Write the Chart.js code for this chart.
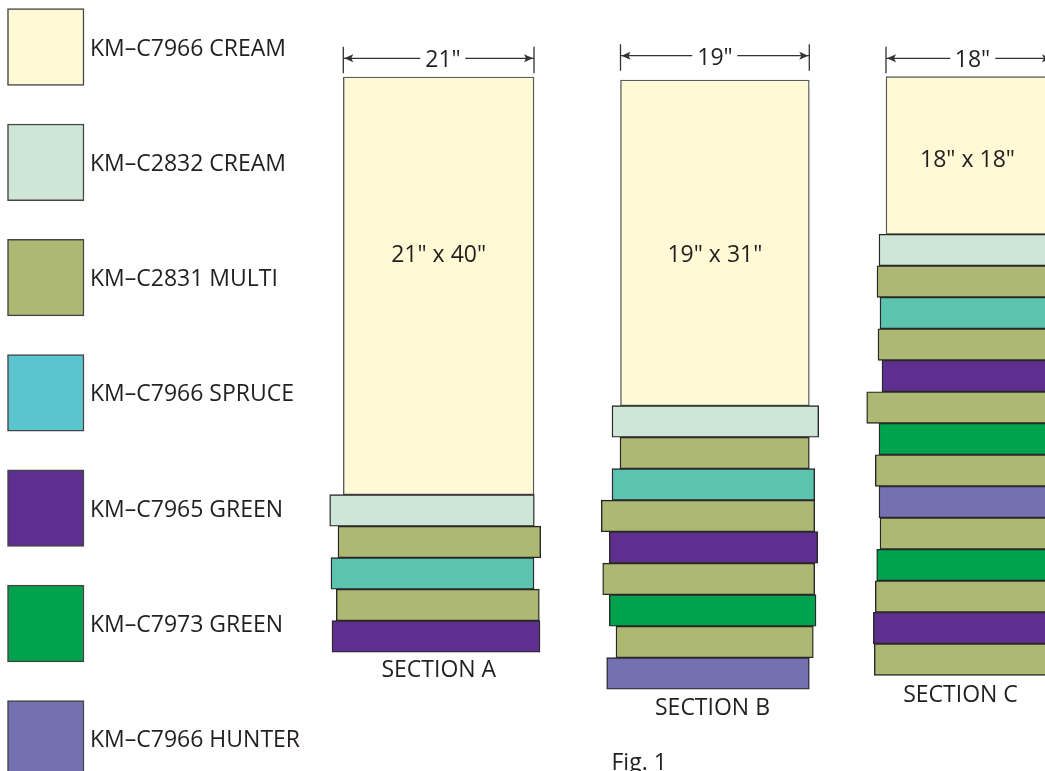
<!DOCTYPE html>
<html>
<head>
<meta charset="utf-8">
<script src="https://cdn.jsdelivr.net/npm/chart.js@4.4.1/dist/chart.umd.min.js"></script>
<style>
    html, body { margin: 0; padding: 0; background: #fff; overflow: hidden; }
    #wrap { position: relative; width: 1045px; height: 771px; }
    #wrap canvas { position: absolute; left: 0; top: 0; }
    .lbl {
        position: absolute;
        font-family: "Open Sans", sans-serif;
        font-size: 23px;
        line-height: 1;
        color: #231f20;
        white-space: nowrap;
    }
    .dim { background: #fff; padding: 0 5px; }
</style>
</head>
<body>
<div id="wrap"><canvas id="quiltChart" width="1045" height="771"></canvas></div>
<script>
// Fabric key (legend on the left)
const fabricNames = ['KM\u2013C7966 CREAM', 'KM\u2013C2832 CREAM', 'KM\u2013C2831 MULTI', 'KM\u2013C7966 SPRUCE',
    'KM\u2013C7965 GREEN', 'KM\u2013C7973 GREEN', 'KM\u2013C7966 HUNTER'];
const swatchColors = ['#fff9d6', '#cde6d7', '#adb872', '#5ac5cf', '#5e2f8e', '#00a34d', '#7471b0'];
const stripColors = ['#fff9d6', '#cde6d7', '#adb872', '#5cc4ae', '#5e2f8e', '#00a34d', '#7471b0'];

// Sections
const sectionNames = ['SECTION A', 'SECTION B', 'SECTION C'];
const sectionWidths = ['21"', '19"', '18"'];
const blockSizes = ['21" x 40"', '19" x 31"', '18" x 18"'];
const blockLeft = [343.3, 620.5, 886];
const blockRight = [534, 809.3, 1052];
const blockTop = [77, 80, 76.7];
const blockBottom = [494.7, 405.7, 234.3];

// Strips below each block, top to bottom (index into fabricNames)
const stripsA = [1, 2, 3, 2, 4];
const stripsB = [1, 2, 3, 2, 4, 2, 5, 2, 6];
const stripsC = [1, 2, 3, 2, 4, 2, 5, 2, 6, 2, 5, 2, 4, 2];
const leftA = [329.7, 338, 331, 336.3, 332];
const rightA = [534.3, 540.7, 534, 539.3, 540];
const leftB = [612, 620, 612, 601.3, 609.3, 602.7, 609.3, 616, 606.7];
const rightB = [818.7, 809.3, 814.7, 814.7, 817.7, 814.7, 816, 813.3, 809.3];
const leftC = [879, 877, 880, 878, 882, 866.7, 879, 875.3, 879, 880, 876.7, 875.3, 873.3, 874.3];
const rightC = [1060, 1062, 1060, 1061, 1060, 1063, 1060, 1061, 1060, 1060, 1061, 1062, 1063, 1061];

// Layout
const stripHeight = 31.5;
const swatchLeft = 7.5, swatchRight = 84, swatchTop = 8.7, swatchSize = 76.6, swatchGap = 115.3;
const dimY = [58.3, 55.7, 58.3];
const dimTextX = [443, 715, 972.5];
const blockLabelY = [253, 253, 158.3];
const sectionLabelX = [438.8, 712.5, 960.5];
const sectionLabelY = [668.3, 706, 693];

const sectionStrips = [
    { fabrics: stripsA, left: leftA, right: rightA },
    { fabrics: stripsB, left: leftB, right: rightB },
    { fabrics: stripsC, left: leftC, right: rightC }
];

const datasets = [];

// legend swatches
datasets.push({
    data: fabricNames.map((n, i) => ({ x: [swatchLeft, swatchRight], y: swatchTop + swatchSize / 2 + i * swatchGap })),
    backgroundColor: swatchColors,
    borderColor: '#444',
    borderWidth: 1.5,
    barThickness: swatchSize
});

// strips
sectionStrips.forEach((s, k) => {
    datasets.push({
        data: s.fabrics.map((f, i) => ({ x: [s.left[i], s.right[i]], y: blockBottom[k] + stripHeight * (i + 0.5) })),
        backgroundColor: s.fabrics.map(f => stripColors[f]),
        borderColor: '#2a2728',
        borderWidth: 1.4,
        barThickness: stripHeight
    });
});

// big cream blocks
sectionNames.forEach((name, k) => {
    datasets.push({
        data: [{ x: [blockLeft[k], blockRight[k]], y: (blockTop[k] + blockBottom[k]) / 2 }],
        backgroundColor: stripColors[0],
        borderColor: '#5a5a5a',
        borderWidth: 1.4,
        barThickness: blockBottom[k] - blockTop[k]
    });
});

// dimension arrows above each block
const dimensionLines = {
    id: 'dimensionLines',
    afterDatasetsDraw(chart) {
        const ctx = chart.ctx;
        const xs = chart.scales.x, ys = chart.scales.y;
        ctx.save();
        ctx.strokeStyle = '#333';
        ctx.fillStyle = '#333';
        ctx.lineWidth = 1.3;
        sectionNames.forEach((name, k) => {
            const x0 = xs.getPixelForValue(blockLeft[k]);
            const x1 = xs.getPixelForValue(blockRight[k]);
            const y = ys.getPixelForValue(dimY[k]);
            ctx.beginPath();
            ctx.moveTo(x0, y - 11.5); ctx.lineTo(x0, y + 15);
            ctx.moveTo(x1, y - 11.5); ctx.lineTo(x1, y + 15);
            ctx.moveTo(x0, y); ctx.lineTo(x1, y);
            ctx.stroke();
            [[x0, 1], [x1, -1]].forEach(([x, d]) => {
                ctx.beginPath();
                ctx.moveTo(x + d * 1, y);
                ctx.lineTo(x + d * 10, y - 4);
                ctx.lineTo(x + d * 8, y);
                ctx.lineTo(x + d * 10, y + 4);
                ctx.closePath();
                ctx.fill();
            });
        });
        ctx.restore();
    }
};

const chart = new Chart(document.getElementById('quiltChart'), {
    type: 'bar',
    data: { datasets: datasets },
    options: {
        indexAxis: 'y',
        responsive: false,
        animation: false,
        layout: { padding: 0 },
        datasets: { bar: { grouped: false, borderSkipped: false } },
        plugins: { legend: { display: false }, tooltip: { enabled: false } },
        scales: {
            x: { type: 'linear', min: 0, max: 1045, offset: false, display: false },
            y: { type: 'linear', min: 0, max: 771, reverse: true, offset: false, display: false }
        }
    },
    plugins: [dimensionLines]
});

// text labels as real text, placed through the chart scales
const wrap = document.getElementById('wrap');
function addLabel(text, x, y, centered, cls) {
    const el = document.createElement('div');
    el.className = 'lbl' + (cls ? ' ' + cls : '');
    el.textContent = text;
    el.style.left = chart.scales.x.getPixelForValue(x) + 'px';
    el.style.top = chart.scales.y.getPixelForValue(y) + 'px';
    el.style.transform = centered ? 'translate(-50%, -50%)' : 'translate(0, -50%)';
    wrap.appendChild(el);
}

fabricNames.forEach((name, i) => {
    addLabel(name, swatchRight + 6, swatchTop + swatchSize / 2 + i * swatchGap - 0.5, false);
});
sectionNames.forEach((name, k) => {
    addLabel(sectionWidths[k], dimTextX[k], dimY[k], true, 'dim');
    addLabel(blockSizes[k], (blockLeft[k] + Math.min(blockRight[k], 1049)) / 2, blockLabelY[k], true);
    addLabel(name, sectionLabelX[k], sectionLabelY[k], true);
});
addLabel('Fig. 1', 611.5, 760.5, false);
</script>
</body>
</html>
